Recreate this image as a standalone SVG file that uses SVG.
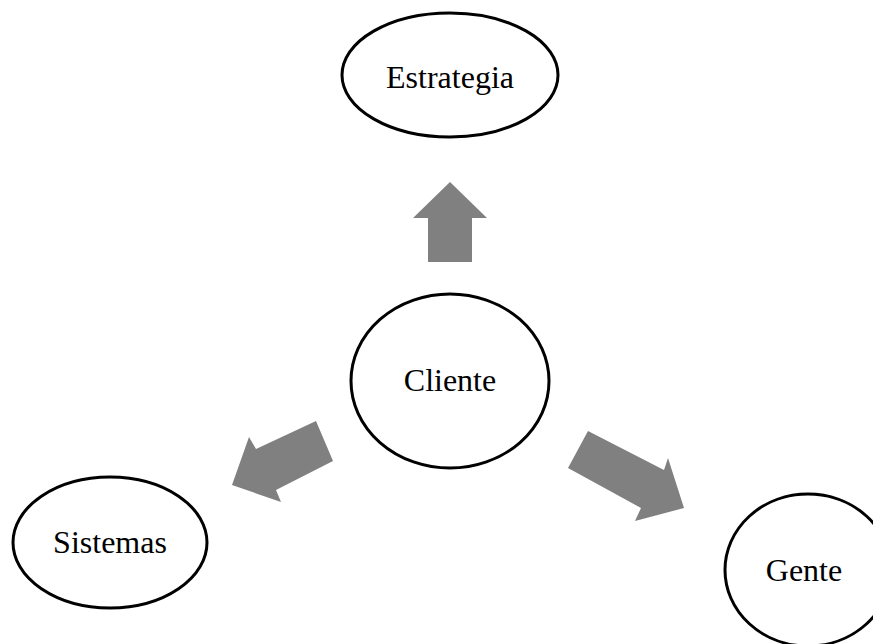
<svg xmlns="http://www.w3.org/2000/svg" width="873" height="644" viewBox="0 0 873 644">
  <style>
    .node ellipse { fill: #ffffff; stroke: #000000; stroke-width: 3; }
    .node text { font-family: "Liberation Serif", "Times New Roman", serif; font-size: 32px; fill: #000000; text-anchor: middle; }
    .arrow { fill: #808080; stroke: none; }
  </style>
  <rect width="873" height="644" fill="#ffffff"/>

  <!-- block arrows pointing from the centre outward -->
  <g id="connectors">
    <polygon class="arrow" points="428,262 428,218 413,218 450,182 487,218 472,218 472,262"/>
    <polygon class="arrow" points="316,421 256,449 249,437 232,485 281,502 276,490 333,461"/>
    <polygon class="arrow" points="588,431 664,470 668,458 684,508 635,521 641,508 568,468"/>
  </g>

  <g id="estrategia" class="node">
    <ellipse cx="450" cy="75" rx="108" ry="62"/>
    <text x="450" y="88">Estrategia</text>
  </g>

  <g id="cliente" class="node">
    <ellipse cx="450" cy="381" rx="99" ry="87"/>
    <text x="450" y="391">Cliente</text>
  </g>

  <g id="sistemas" class="node">
    <ellipse cx="110" cy="542.5" rx="97" ry="65.5"/>
    <text x="110" y="553">Sistemas</text>
  </g>

  <g id="gente" class="node">
    <ellipse cx="808" cy="570" rx="83" ry="76"/>
    <text x="804" y="581">Gente</text>
  </g>
</svg>
